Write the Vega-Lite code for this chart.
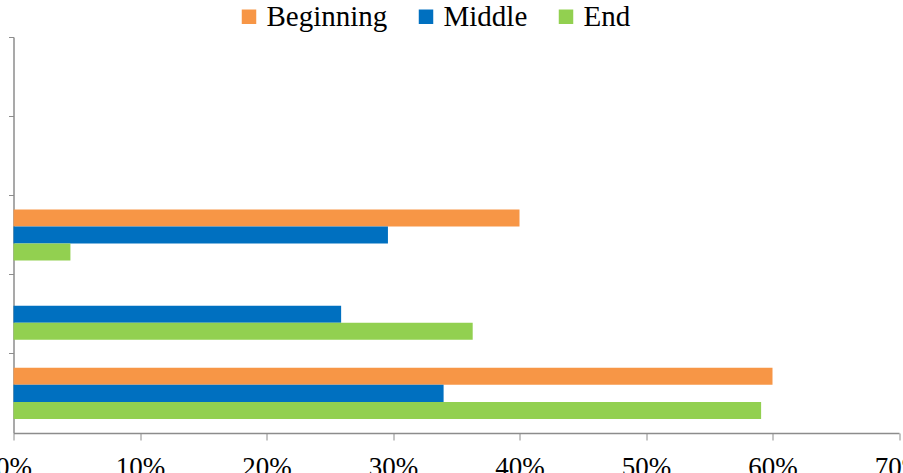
{
  "$schema": "https://vega.github.io/schema/vega-lite/v6.json",
  "autosize": "none",
  "width": 885.5,
  "height": 396,
  "padding": {"top": 37, "left": 13.5, "right": 4, "bottom": 40},
  "background": "white",
  "config": {"view": {"stroke": null}},
  "data": {
    "values": [
      {"category": "Category 1", "series": "Beginning", "value": 0.600},
      {"category": "Category 1", "series": "Middle", "value": 0.340},
      {"category": "Category 1", "series": "End", "value": 0.591},
      {"category": "Category 2", "series": "Beginning", "value": 0},
      {"category": "Category 2", "series": "Middle", "value": 0.259},
      {"category": "Category 2", "series": "End", "value": 0.363},
      {"category": "Category 3", "series": "Beginning", "value": 0.400},
      {"category": "Category 3", "series": "Middle", "value": 0.296},
      {"category": "Category 3", "series": "End", "value": 0.045},
      {"category": "Category 4", "series": "Beginning", "value": 0},
      {"category": "Category 4", "series": "Middle", "value": 0},
      {"category": "Category 4", "series": "End", "value": 0},
      {"category": "Category 5", "series": "Beginning", "value": 0},
      {"category": "Category 5", "series": "Middle", "value": 0},
      {"category": "Category 5", "series": "End", "value": 0}
    ]
  },
  "mark": {"type": "bar", "cornerRadius": 0},
  "encoding": {
    "y": {
      "field": "category",
      "type": "nominal",
      "sort": ["Category 5", "Category 4", "Category 3", "Category 2", "Category 1"],
      "scale": {"paddingInner": 0, "paddingOuter": 0},
      "axis": {
        "title": null,
        "labels": false,
        "bandPosition": 0,
        "domainColor": "#8c8c8c",
        "tickColor": "#8c8c8c",
        "tickSize": 5,
        "domainWidth": 1.5,
        "grid": false
      }
    },
    "yOffset": {
      "field": "series",
      "type": "nominal",
      "sort": ["Beginning", "Middle", "End"],
      "scale": {"paddingInner": 0, "paddingOuter": 0.82}
    },
    "x": {
      "field": "value",
      "type": "quantitative",
      "scale": {"domain": [0, 0.7], "nice": false, "zero": true},
      "axis": {
        "title": null,
        "format": ".0%",
        "values": [0, 0.1, 0.2, 0.3, 0.4, 0.5, 0.6, 0.7],
        "grid": false,
        "labelFlush": false,
        "labelOverlap": false,
        "labelBound": false,
        "labelFont": "Liberation Serif, Times New Roman, DejaVu Serif, serif",
        "labelFontSize": 27,
        "labelColor": "black",
        "labelPadding": 14,
        "domainColor": "#8c8c8c",
        "tickColor": "#8c8c8c",
        "tickSize": 7,
        "domainWidth": 1.5
      }
    },
    "color": {
      "field": "series",
      "type": "nominal",
      "scale": {
        "domain": ["Beginning", "Middle", "End"],
        "range": ["#F79646", "#0070C0", "#92D050"]
      },
      "legend": {
        "title": null,
        "orient": "none",
        "direction": "horizontal",
        "legendX": 221,
        "legendY": -35,
        "padding": 0,
        "symbolType": "square",
        "symbolSize": 210,
        "symbolStrokeWidth": 0,
        "labelFont": "Liberation Serif, Times New Roman, DejaVu Serif, serif",
        "labelFontSize": 29,
        "labelColor": "black",
        "labelOffset": 3,
        "columnPadding": 24,
        "labelLimit": 300
      }
    }
  }
}
